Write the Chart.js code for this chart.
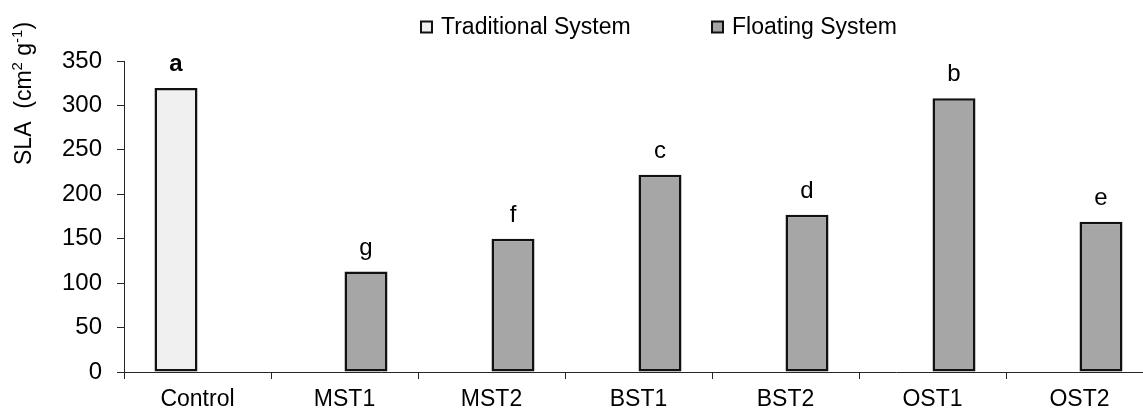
<!DOCTYPE html>
<html>
<head>
<meta charset="utf-8">
<script src="https://cdn.jsdelivr.net/npm/chart.js@4.4.1/dist/chart.umd.min.js"></script>
<style>
  html,body{ margin:0; padding:0; background:#fff; overflow:hidden; }
  #wrap{ width:1153px; height:410px; position:relative; }
</style>
</head>
<body>
<div id="wrap"><canvas id="chartSLA"></canvas></div>
<script>
// dados
const categories = ['Control','MST1','MST2','BST1','BST2','OST1','OST2'];
const traditional = [319.5, null, null, null, null, null, null];
const floating = [null, 113, 150, 222, 177, 308, 169];
const letters = ['a','g','f','c','d','b','e'];
const letterBold = [true, false, false, false, false, false, false];
const yTicks = [0, 50, 100, 150, 200, 250, 300, 350];

(function(){
  const FONT = '"Liberation Sans", Arial, Helvetica, sans-serif';
  const INK = '#000';
  const AXIS = '#262626';

  // letras de significância acima das barras
  const letterPlugin = {
    id:'letters',
    afterDatasetsDraw(chart){
      const {ctx} = chart;
      ctx.save();
      ctx.fillStyle = INK;
      ctx.textAlign = 'center';
      ctx.textBaseline = 'alphabetic';
      categories.forEach((c,i)=>{
        chart.data.datasets.forEach((ds,k)=>{
          if(ds.data[i]==null) return;
          const bar = chart.getDatasetMeta(k).data[i];
          ctx.font = (letterBold[i] ? 'bold ' : '') + '24px ' + FONT;
          ctx.fillText(letters[i], bar.x, bar.y - 17);
        });
      });
      ctx.restore();
    }
  };

  // legenda no topo (caixas quadradas, espaçamento do original)
  const LEGEND_X = [420, 711];
  const legendPlugin = {
    id:'topLegend',
    afterDraw(chart){
      const {ctx} = chart;
      ctx.save();
      ctx.font = '23px ' + FONT;
      ctx.textBaseline = 'alphabetic';
      ctx.textAlign = 'left';
      chart.data.datasets.forEach((ds,k)=>{
        const x = LEGEND_X[k];
        ctx.fillStyle = ds.backgroundColor;
        ctx.fillRect(x+1, 21.5, 11, 11);
        ctx.strokeStyle = '#111';
        ctx.lineWidth = 2;
        ctx.strokeRect(x+1, 21.5, 11, 11);
        ctx.fillStyle = INK;
        ctx.fillText(ds.label, x + 21, 34);
      });
      ctx.restore();
    }
  };

  // título do eixo Y com sobrescritos
  const yTitlePlugin = {
    id:'yTitle',
    afterDraw(chart){
      const {ctx} = chart;
      const parts = [
        {t:'SLA  (cm', sup:false},
        {t:'2', sup:true},
        {t:' g', sup:false},
        {t:'-1', sup:true},
        {t:')', sup:false}
      ];
      ctx.save();
      ctx.translate(31, 165);
      ctx.rotate(-Math.PI/2);
      ctx.fillStyle = INK;
      ctx.textAlign = 'left';
      ctx.textBaseline = 'alphabetic';
      let x = 0;
      parts.forEach(p=>{
        ctx.font = (p.sup ? '15px ' : '23px ') + FONT;
        ctx.fillText(p.t, x, p.sup ? -9 : 0);
        x += ctx.measureText(p.t).width;
      });
      ctx.restore();
    }
  };

  const ctx = document.getElementById('chartSLA');
  new Chart(ctx.getContext('2d'), {
    type:'bar',
    data:{
      labels: categories,
      datasets:[
        { label:'Traditional System', data:traditional, backgroundColor:'#f0f0f0', borderColor:'#111', borderWidth:2.5, borderSkipped:false },
        { label:'Floating System', data:floating, backgroundColor:'#a6a6a6', borderColor:'#111', borderWidth:2.5, borderSkipped:false }
      ]
    },
    options:{
      responsive:true,
      maintainAspectRatio:false,
      animation:false,
      categoryPercentage:0.585,
      barPercentage:1.0,
      layout:{ padding:{ top:61, right:0, bottom:0, left:0 } },
      plugins:{ legend:{display:false}, tooltip:{enabled:false} },
      scales:{
        x:{
          offset:true,
          grid:{ offset:true, drawOnChartArea:false, drawTicks:true, tickLength:7, color:AXIS },
          border:{ display:true, color:AXIS, width:1 },
          ticks:{ color:INK, font:{ family:FONT, size:23 }, padding:7, maxRotation:0, autoSkip:false },
          afterFit(s){ s.height = 38; }
        },
        y:{
          min:0, max:350,
          afterBuildTicks(s){ s.ticks = yTicks.map(v=>({value:v})); },
          grid:{ drawOnChartArea:false, drawTicks:true, tickLength:7, color:AXIS },
          border:{ display:true, color:AXIS, width:1 },
          ticks:{ color:INK, font:{ family:FONT, size:24 }, padding:15 },
          afterFit(s){ s.width = 124; }
        }
      }
    },
    plugins:[letterPlugin, legendPlugin, yTitlePlugin]
  });
})();
</script>
</body>
</html>
